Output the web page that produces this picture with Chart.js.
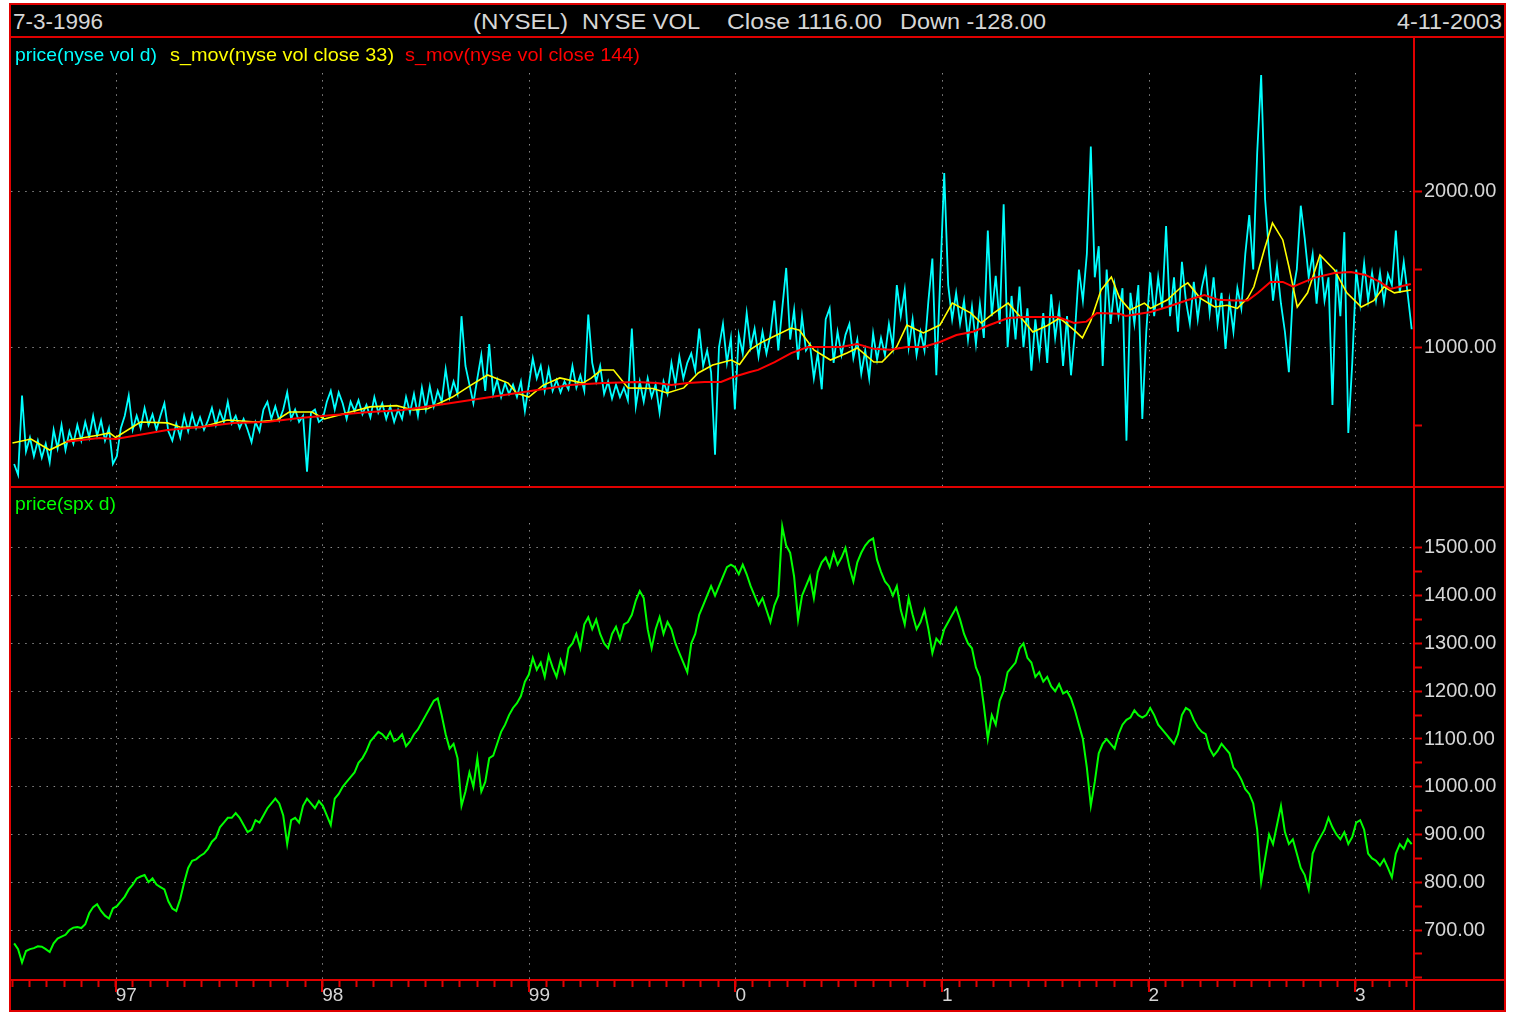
<!DOCTYPE html>
<html>
<head>
<meta charset="utf-8">
<title>NYSE VOL / SPX</title>
<script src="https://cdn.jsdelivr.net/npm/chart.js@4.4.1/dist/chart.umd.min.js"></script>
<style>
  html, body { margin: 0; padding: 0; background: #fff; }
  #frame { position: absolute; left: 9px; top: 3px; width: 1497px; height: 1009px;
           background: #000; border: 2px solid #e00000; box-sizing: border-box; }
  canvas { position: absolute; }
  .rule { position: absolute; background: #e00000; }
  .txt { position: absolute; white-space: nowrap; line-height: 1;
         font-family: "Liberation Sans", Arial, sans-serif; transform-origin: 0 50%; }
  .hdr { font-size: 22px; top: 11px; color: #d6d6d6; }
  .leg { font-size: 19px; top: 45px; }
  .leg2 { font-size: 19px; top: 494px; }
</style>
</head>
<body>
<div id="frame"></div>
<canvas id="volChart" width="1494" height="449" style="left:11px;top:38px"></canvas>
<canvas id="spxChart" width="1494" height="524" style="left:11px;top:487px"></canvas>

<div class="rule" style="left:9px;top:36px;width:1497px;height:2px"></div>
<div class="rule" style="left:9px;top:486px;width:1497px;height:2px"></div>
<div class="rule" style="left:9px;top:979px;width:1497px;height:2px"></div>
<div class="rule" style="left:1413px;top:37px;width:2px;height:974px"></div>

<div class="txt fit hdr" data-l="13" data-r="103">7-3-1996</div>
<div class="txt fit hdr" data-l="473" data-r="568">(NYSEL)</div>
<div class="txt fit hdr" data-l="582" data-r="700">NYSE VOL</div>
<div class="txt fit hdr" data-l="727" data-r="882">Close 1116.00</div>
<div class="txt fit hdr" data-l="900" data-r="1046">Down -128.00</div>
<div class="txt fit hdr" data-l="1397" data-r="1502">4-11-2003</div>
<div class="txt fit leg" data-l="15" data-r="157" style="color:#00ffff">price(nyse vol d)</div>
<div class="txt fit leg" data-l="170" data-r="394" style="color:#ffff00">s_mov(nyse vol close 33)</div>
<div class="txt fit leg" data-l="405" data-r="640" style="color:#ff0000">s_mov(nyse vol close 144)</div>
<div class="txt fit leg2" data-l="15" data-r="116" style="color:#00ff00">price(spx d)</div>

<script>
// ---- data (weekly closes from 1996-07-05) ----
const vol96 = [250,180,690,330,420,300,400,290,380,260,470,350,500,340,460,380,500,400,520,420,560,430,530,400,480,250];
const vol97 = [300,480,560,690,470,560,480,610,500,570,470,560,640,460,400,510,420,560,460,570,480,550,470,530,610,500,
               590,520,650,510,560,480,540,470,390,520,460,600,650,540,620,530,600,710,540,600,520,560,200,580,600,520];
const vol98 = [540,650,720,600,710,640,540,650,590,660,570,630,550,680,580,640,540,620,520,600,540,680,580,700,560,740,
               600,750,620,720,650,860,680,780,700,1200,880,760,640,800,950,720,1020,700,790,680,770,700,760,680,780,590];
const vol99 = [760,930,800,880,720,860,720,790,710,780,730,880,740,820,720,1210,900,780,880,700,780,670,760,680,740,660,
               1120,620,780,650,800,680,760,580,780,700,900,760,940,800,900,960,850,1120,880,980,840,310,1000,1150,900,1060];
const vol00 = [600,1080,960,1220,1000,1120,940,1100,960,1080,1300,980,1250,1510,1050,1240,920,1200,980,1020,800,960,730,1180,1250,900,
               1100,950,1080,1150,930,1050,830,980,800,1090,920,1060,950,1150,1000,1400,1200,1370,1000,1180,950,1100,980,1300,1570,820];
const vol01 = [1450,2120,1400,1180,1350,1150,1300,1050,1260,1020,1280,1060,1750,1200,1460,1150,1920,1000,1330,1050,1390,1000,1250,850,1180,950,
               1220,900,1340,1060,1250,880,1200,820,1100,1500,1300,1600,2290,1450,1650,880,1500,1150,1400,1200,1380,400,1350,1150,1400,540];
const vol02 = [1100,1480,1200,1450,1250,1780,1200,1450,1100,1550,1300,1150,1420,1180,1380,1500,1220,1450,1150,1350,990,1300,1100,1380,1250,1600,
               1850,1500,2250,2750,1950,1600,1300,1520,1280,1100,840,1350,1500,1910,1700,1450,1600,1280,1580,1300,1450,630,1500,1200,1740,450];
const vol03 = [900,1500,1280,1540,1300,1480,1300,1480,1290,1470,1400,1750,1350,1550,1340,1116];

const spx96 = [672,660,632,656,660,662,666,665,660,654,672,682,686,690,700,705,706,704,712,735,748,754,740,730,724,745];
const spx97 = [750,760,770,785,795,808,812,815,800,808,795,790,785,760,745,740,765,800,830,845,848,855,860,870,885,893,
               915,925,935,935,945,935,920,905,910,930,925,940,955,965,975,965,940,880,930,935,925,960,975,965,955,970];
const spx98 = [960,940,920,975,985,1000,1010,1020,1030,1050,1060,1075,1095,1105,1115,1110,1100,1115,1095,1100,1110,1085,1095,1110,1120,1135,
               1150,1165,1180,1185,1150,1110,1080,1090,1060,960,990,1030,1000,1060,990,1010,1060,1065,1090,1115,1130,1150,1165,1175,1190,1220];
const spx99 = [1235,1270,1245,1260,1230,1275,1250,1230,1265,1240,1290,1300,1320,1290,1340,1355,1330,1350,1320,1300,1290,1320,1335,1310,1340,1345,
               1360,1390,1410,1395,1330,1290,1330,1355,1320,1345,1330,1300,1280,1260,1240,1300,1320,1360,1380,1400,1420,1400,1420,1440,1460,1465];
const spx00 = [1460,1445,1465,1445,1420,1400,1380,1395,1370,1345,1380,1400,1545,1505,1490,1440,1350,1400,1420,1440,1395,1450,1470,1480,1460,1490,
               1465,1480,1500,1460,1430,1470,1490,1505,1515,1520,1475,1450,1430,1420,1400,1420,1370,1340,1395,1360,1330,1345,1370,1330,1280,1310];
const spx01 = [1300,1330,1345,1360,1375,1350,1320,1300,1290,1250,1230,1170,1100,1150,1130,1180,1200,1240,1250,1260,1290,1300,1270,1260,1230,1240,
               1220,1230,1210,1200,1215,1195,1200,1185,1160,1130,1100,1040,960,1010,1070,1090,1100,1090,1080,1110,1130,1140,1145,1160,1150,1145];
const spx02 = [1150,1165,1150,1130,1120,1110,1100,1090,1110,1150,1165,1160,1140,1125,1115,1110,1080,1065,1075,1090,1080,1070,1040,1030,1015,995,
               985,965,910,800,850,900,880,920,960,905,880,890,860,830,815,785,860,880,895,910,935,915,900,890,905,880];
const spx03 = [895,925,930,910,860,850,845,835,848,830,810,860,880,870,890,880];

// moving averages as [decimal year, value]
const sma33 = [
  [1996.50,385],[1996.59,410],[1996.68,340],[1996.78,404],[1996.92,436],[1996.97,450],[1997.00,420],[1997.12,520],
  [1997.25,514],[1997.31,488],[1997.41,485],[1997.54,533],[1997.68,520],[1997.78,533],[1997.84,584],[1997.95,584],
  [1998.01,539],[1998.23,617],[1998.36,625],[1998.44,597],[1998.51,605],[1998.63,680],[1998.72,757],[1998.80,822],
  [1998.85,796],[1998.90,770],[1998.94,706],[1999.00,680],[1999.07,757],[1999.15,803],[1999.26,770],[1999.30,800],
  [1999.35,854],[1999.41,854],[1999.48,739],[1999.60,735],[1999.67,706],[1999.75,739],[1999.82,835],[1999.89,886],
  [1999.98,918],[2000.02,890],[2000.07,983],[2000.12,1027],[2000.18,1066],[2000.27,1124],[2000.31,1110],[2000.38,983],
  [2000.46,918],[2000.54,963],[2000.59,996],[2000.67,905],[2000.71,905],[2000.78,1002],[2000.83,1143],[2000.91,1092],
  [2000.99,1143],[2001.05,1284],[2001.14,1220],[2001.19,1156],[2001.25,1220],[2001.32,1284],[2001.38,1195],[2001.44,1098],
  [2001.51,1140],[2001.57,1188],[2001.64,1110],[2001.68,1060],[2001.72,1170],[2001.77,1368],[2001.82,1452],[2001.86,1316],
  [2001.91,1240],[2001.98,1284],[2002.01,1250],[2002.09,1304],[2002.16,1389],[2002.19,1414],[2002.25,1316],[2002.32,1259],
  [2002.38,1270],[2002.43,1250],[2002.48,1316],[2002.51,1389],[2002.56,1625],[2002.60,1799],[2002.65,1690],[2002.68,1516],
  [2002.72,1259],[2002.77,1350],[2002.83,1593],[2002.90,1497],[2002.96,1350],[2003.03,1259],[2003.09,1300],[2003.14,1389],
  [2003.19,1350],[2003.27,1368]
];
const sma144 = [
  [1996.76,393],[1996.92,417],[1997.00,411],[1997.25,469],[1997.41,488],[1997.57,514],[1997.73,520],[1997.89,546],
  [1998.00,559],[1998.23,584],[1998.39,597],[1998.56,629],[1998.72,661],[1998.88,694],[1999.04,726],[1999.20,757],
  [1999.36,770],[1999.52,777],[1999.62,770],[1999.69,757],[1999.77,770],[1999.85,777],[1999.93,777],[1999.99,809],
  [2000.07,841],[2000.11,855],[2000.19,905],[2000.27,963],[2000.35,1002],[2000.51,1002],[2000.59,1021],[2000.67,990],
  [2000.75,985],[2000.83,1002],[2000.91,1002],[2000.99,1034],[2001.07,1079],[2001.15,1100],[2001.23,1143],[2001.32,1188],
  [2001.40,1195],[2001.48,1195],[2001.56,1195],[2001.64,1156],[2001.70,1165],[2001.75,1220],[2001.86,1215],[2001.89,1201],
  [2002.01,1227],[2002.09,1259],[2002.19,1304],[2002.27,1336],[2002.34,1305],[2002.42,1300],[2002.48,1300],[2002.53,1350],
  [2002.59,1420],[2002.65,1420],[2002.70,1390],[2002.80,1446],[2002.90,1478],[2002.98,1484],[2003.05,1465],[2003.12,1420],
  [2003.17,1375],[2003.27,1407]
];

// axis ticks / labels
const yearTicks  = [1997, 1998, 1999, 2000, 2001, 2002, 2003];
const yearLabels = ['97', '98', '99', '0', '1', '2', '3'];
const volTicks   = [500, 1000, 1500, 2000];
const volLabels  = [1000, 2000];
const spxTicks   = [600, 650, 700, 750, 800, 850, 900, 950, 1000, 1050, 1100, 1150, 1200, 1250, 1300, 1350, 1400, 1450, 1500];
const spxLabels  = [700, 800, 900, 1000, 1100, 1200, 1300, 1400, 1500];

const volume = [...vol96, ...vol97, ...vol98, ...vol99, ...vol00, ...vol01, ...vol02, ...vol03];
const spx    = [...spx96, ...spx97, ...spx98, ...spx99, ...spx00, ...spx01, ...spx02, ...spx03];

// ---- helpers ----
const X_MIN = 1996.493, X_MAX = 2003.29;
const FONT = '"Liberation Sans", Arial, sans-serif';
const RED = '#e00000', GRID = '#8a8a8a', LABEL = '#d6d6d6';
const DOTS = [1.5, 5.6];
const START = Date.UTC(1996, 6, 5);

function weekToYear(i) {
    const d = new Date(START + i * 7 * 86400000);
    const y = d.getUTCFullYear();
    const y0 = Date.UTC(y, 0, 1), y1 = Date.UTC(y + 1, 0, 1);
    return y + (d - y0) / (y1 - y0);
}
const weekly = arr => arr.map((v, i) => ({ x: weekToYear(i), y: v }));
const pairs = arr => arr.map(([x, y]) => ({ x, y }));

const monthTicks = [];
for (let y = 1996; y <= 2003; y++) {
    for (let m = 0; m < 12; m++) {
        const v = y + m / 12;
        if (v > X_MIN && v < X_MAX) monthTicks.push(v);
    }
}
const isYear = v => Math.abs(v - Math.round(v)) < 1e-6;

// dotted year gridlines (start below the legend line) and long year ticks
const yearGrid = {
    id: 'yearGrid',
    beforeDatasetsDraw(chart, args, opts) {
        const { ctx, chartArea: a, scales: { x } } = chart;
        ctx.save();
        ctx.lineWidth = 1;
        ctx.strokeStyle = GRID;
        ctx.setLineDash(DOTS);
        yearTicks.forEach(v => {
            const px = Math.round(x.getPixelForValue(v)) + 0.5;
            ctx.beginPath();
            ctx.moveTo(px, a.top + opts.from);
            ctx.lineTo(px, a.bottom);
            ctx.stroke();
        });
        if (opts.longTicks) {
            ctx.setLineDash([]);
            ctx.strokeStyle = RED;
            ctx.lineWidth = 2;
            yearTicks.forEach(v => {
                const px = Math.round(x.getPixelForValue(v));
                ctx.beginPath();
                ctx.moveTo(px, a.bottom);
                ctx.lineTo(px, a.bottom + 12);
                ctx.stroke();
            });
        }
        ctx.restore();
    }
};

function valueAxis(min, max, ticks, labels) {
    return {
        position: 'right', min, max,
        afterBuildTicks: s => { s.ticks = ticks.map(v => ({ value: v })); },
        afterFit: s => { s.width = 90; s.paddingTop = 0; s.paddingBottom = 0; },
        ticks: {
            color: LABEL, padding: 2, autoSkip: false,
            font: { family: FONT, size: 20 },
            callback: v => labels.includes(v) ? v.toFixed(2) : ''
        },
        grid: {
            color: c => (c.tick && labels.includes(c.tick.value)) ? GRID : 'rgba(0,0,0,0)',
            lineWidth: 1, tickColor: RED, tickLength: 7, tickWidth: 2
        },
        border: { display: false, dash: DOTS }
    };
}

const common = {
    responsive: false, animation: false, devicePixelRatio: 1, events: [],
    layout: { padding: 0 },
    elements: { point: { radius: 0 }, line: { tension: 0 } }
};

new Chart(document.getElementById('volChart'), {
    type: 'line',
    data: {
        datasets: [
            { data: weekly(volume), borderColor: '#00ffff', borderWidth: 1.8, order: 3 },
            { data: pairs(sma33), borderColor: '#ffff00', borderWidth: 1.6, order: 2 },
            { data: pairs(sma144), borderColor: '#ff0000', borderWidth: 2, order: 1 }
        ]
    },
    options: {
        ...common,
        plugins: { legend: { display: false }, tooltip: { enabled: false }, yearGrid: { from: 35, longTicks: false } },
        scales: {
            x: {
                type: 'linear', min: X_MIN, max: X_MAX,
                ticks: { display: false },
                grid: { drawOnChartArea: false, drawTicks: false },
                border: { display: false },
                afterFit: s => { s.height = 0; s.paddingLeft = 0; s.paddingRight = 0; }
            },
            y: valueAxis(102, 2988, volTicks, volLabels)
        }
    },
    plugins: [yearGrid]
});

new Chart(document.getElementById('spxChart'), {
    type: 'line',
    data: {
        datasets: [
            { data: weekly(spx), borderColor: '#00ff00', borderWidth: 2 }
        ]
    },
    options: {
        ...common,
        plugins: { legend: { display: false }, tooltip: { enabled: false }, yearGrid: { from: 36, longTicks: true } },
        scales: {
            x: {
                type: 'linear', min: X_MIN, max: X_MAX,
                afterBuildTicks: s => { s.ticks = monthTicks.map(v => ({ value: v })); },
                afterFit: s => { s.height = 31; s.paddingLeft = 0; s.paddingRight = 0; },
                ticks: {
                    autoSkip: false, maxRotation: 0, minRotation: 0, align: 'start', padding: -3,
                    color: LABEL, font: { family: FONT, size: 19 },
                    callback: v => isYear(v) ? yearLabels[yearTicks.indexOf(Math.round(v))] : ''
                },
                grid: { drawOnChartArea: false, tickLength: 7, tickColor: RED, tickWidth: 2 },
                border: { display: false }
            },
            y: valueAxis(595.3, 1627.7, spxTicks, spxLabels)
        }
    },
    plugins: [yearGrid]
});

// stretch the bitmap-style header/legend texts to their measured spans
document.querySelectorAll('.fit').forEach(el => {
    const l = +el.dataset.l, r = +el.dataset.r;
    el.style.left = l + 'px';
    const w = el.getBoundingClientRect().width;
    el.style.transform = 'scaleX(' + ((r - l) / w).toFixed(4) + ')';
});
</script>
</body>
</html>
